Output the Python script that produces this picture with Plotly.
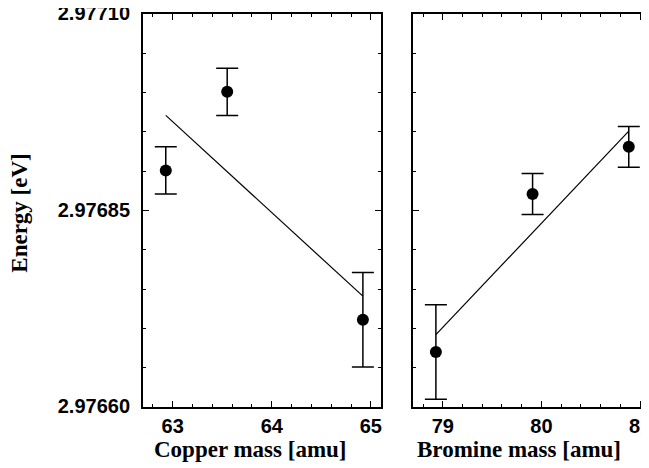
import plotly.graph_objects as go

# Copper panel data
cu_mass = [62.93, 63.55, 64.92]
cu_energy = [2.976901, 2.977001, 2.976711]
cu_err = [0.00003, 0.00003, 0.00006]
cu_fit_mass = [62.93, 64.92]
cu_fit_energy = [2.976971, 2.976741]

# Bromine panel data
br_mass = [78.93, 79.91, 80.885]
br_energy = [2.976670, 2.976871, 2.976931]
br_err = [0.00006, 0.000026, 0.000026]
br_fit_mass = [78.93, 80.885]
br_fit_energy = [2.976692, 2.976951]

y_tick_vals = [2.97660, 2.97685, 2.97710]
y_tick_text = ["2.97660", "2.97685", "2.97710"]
cu_tick_vals = [63, 64, 65]
br_tick_vals = [79, 80, 81]

fig = go.Figure()

marker = dict(symbol="circle", size=12, color="black")
def err(a):
    return dict(type="data", array=a, visible=True, color="black", thickness=1.5, width=11)

fig.add_trace(go.Scatter(x=cu_fit_mass, y=cu_fit_energy, mode="lines",
                         line=dict(color="black", width=1.2), xaxis="x", yaxis="y", showlegend=False))
fig.add_trace(go.Scatter(x=cu_mass, y=cu_energy, mode="markers", marker=marker,
                         error_y=err(cu_err), xaxis="x", yaxis="y", showlegend=False))
fig.add_trace(go.Scatter(x=br_fit_mass, y=br_fit_energy, mode="lines",
                         line=dict(color="black", width=1.2), xaxis="x2", yaxis="y2", showlegend=False))
fig.add_trace(go.Scatter(x=br_mass, y=br_energy, mode="markers", marker=marker,
                         error_y=err(br_err), xaxis="x2", yaxis="y2", showlegend=False))

tickfont = dict(family="Liberation Sans, Arial", size=20, color="black", weight="bold")
common_axis = dict(showline=True, linecolor="black", linewidth=2, mirror="ticks",
                   ticks="inside", ticklen=6, tickwidth=1.2, tickcolor="black",
                   showgrid=False, zeroline=False, tickfont=tickfont,
                   ticklabeloverflow="allow", automargin=False)
minor = dict(ticks="inside", ticklen=3, tickwidth=1, tickcolor="black", showgrid=False)

y_range = [2.97660, 2.97710]

fig.update_layout(
    width=641, height=460,
    margin=dict(l=135, r=0, t=6, b=61),
    paper_bgcolor="white", plot_bgcolor="white",
    xaxis=dict(domain=[0, 0.4698], range=[62.7, 65.1], tickmode="array",
               tickvals=cu_tick_vals, minor=dict(dtick=0.2, **minor), **common_axis),
    xaxis2=dict(domain=[0.534, 1.0], range=[78.7, 81.09], tickmode="array",
                tickvals=br_tick_vals, minor=dict(dtick=0.2, **minor), **common_axis),
    yaxis=dict(domain=[0, 1], range=y_range, tickmode="array", tickvals=y_tick_vals,
               ticktext=y_tick_text, minor=dict(dtick=0.00005, **minor), anchor="x",
               ticklabelstandoff=7, ticklabelshift=-1, **common_axis),
    yaxis2=dict(domain=[0, 1], range=y_range, tickmode="array", tickvals=y_tick_vals,
                showticklabels=False, minor=dict(dtick=0.00005, **minor), anchor="x2",
                **common_axis),
)

title_font = dict(family="Liberation Serif, Times New Roman", size=23, color="black", weight="bold")
fig.add_annotation(text="Copper mass [amu]", xref="paper", yref="paper", x=0.2134, y=-0.072,
                   xanchor="center", yanchor="top", showarrow=False, font=title_font)
fig.add_annotation(text="Bromine mass [amu]", xref="paper", yref="paper", x=0.743, y=-0.072,
                   xanchor="center", yanchor="top", showarrow=False, font=title_font)
fig.add_annotation(text="Energy [eV]", xref="paper", yref="paper", x=-0.243, y=0.492,
                   xanchor="center", yanchor="middle", textangle=-90, showarrow=False,
                   font=title_font)

fig.write_html("out.html")
